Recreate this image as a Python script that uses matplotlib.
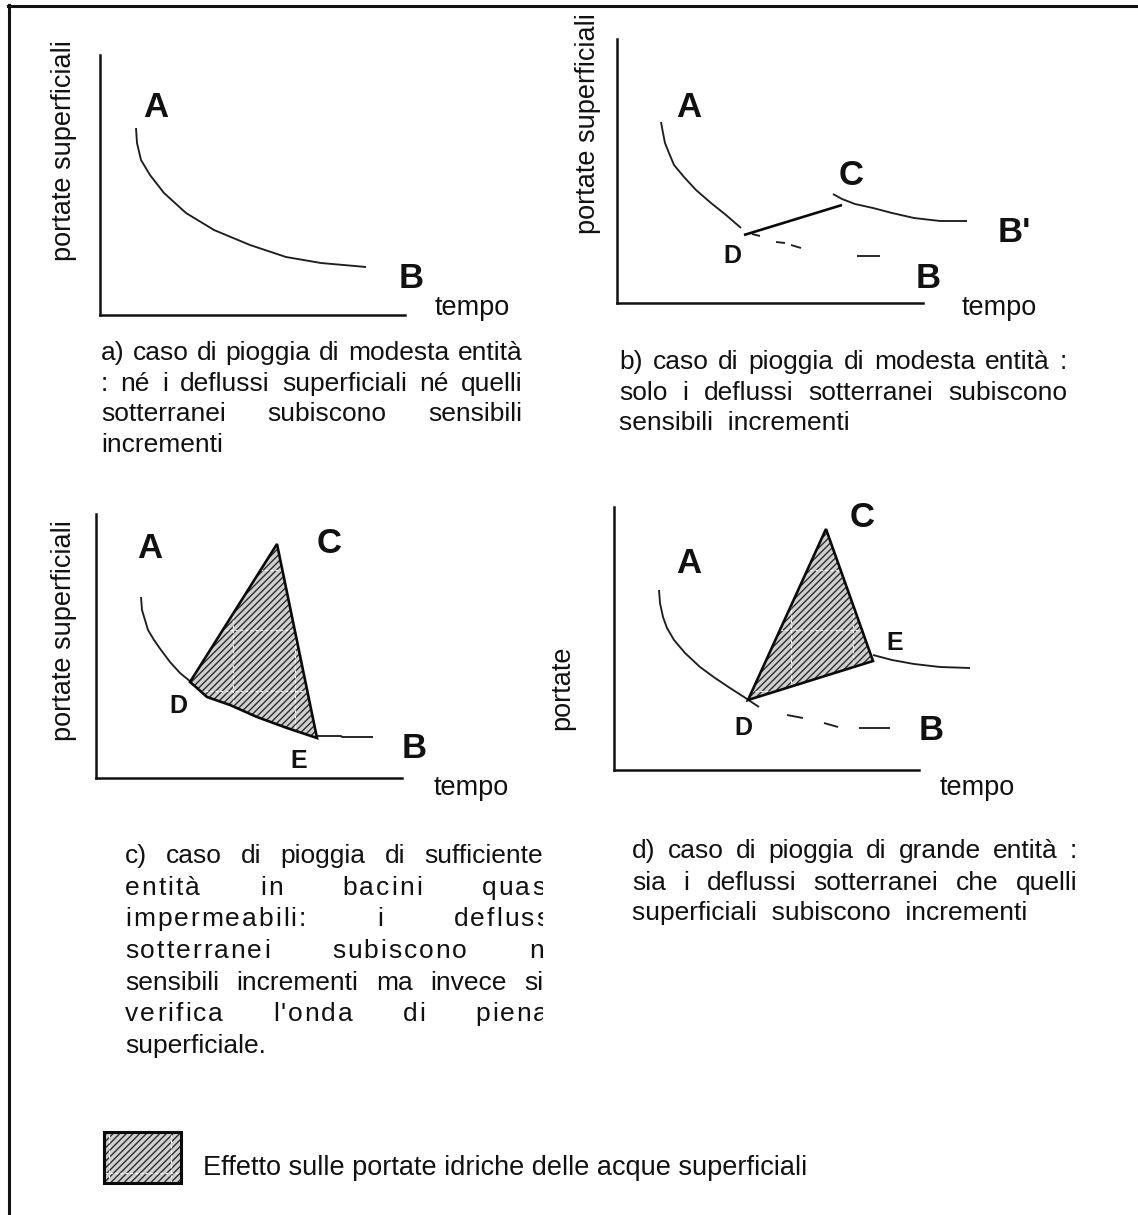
import matplotlib
matplotlib.use("Agg")
import matplotlib.pyplot as plt
from matplotlib import transforms
from matplotlib.patches import Polygon, Rectangle
from matplotlib.lines import Line2D
from matplotlib.font_manager import FontProperties, findfont, get_font

W_PX, H_PX, DPI = 1138, 1215, 100
plt.rcParams['font.family'] = ['Liberation Sans', 'DejaVu Sans']
plt.rcParams['hatch.linewidth'] = 0.95

# ---------------------------------------------------------------------------
# Hydrograph sketches (time, discharge) in arbitrary units measured from the
# origin of each panel's axes.
# ---------------------------------------------------------------------------
# a) recession A -> B
a_t = [36, 37, 41, 50, 64, 86, 114, 150, 186, 221, 266]
a_q = [187, 172, 155, 140, 122, 102, 85, 70, 58, 52, 48]

# b) recession A -> D, groundwater rise D -> C, new recession C -> B'
b_rec_t = [44, 46, 48, 52, 57, 67, 79, 94, 109, 124]
b_rec_q = [181, 170, 160, 150, 138, 126, 113, 100, 88, 75]
b_rise_t = [127, 225]
b_rise_q = [68, 98]
b_new_t = [216, 225, 238, 256, 275, 297, 323, 350]
b_new_q = [109, 104, 99, 95, 90, 85, 82, 82]
# undisturbed recession D -> B (broken line pieces)
b_base_t0 = [135, 159, 174, 240]
b_base_t1 = [143, 168, 184, 263]
b_base_q0 = [69, 61, 58, 47]
b_base_q1 = [67, 60, 55, 47]

# c) recession A -> D, flood wave D -> C -> E, recession E -> B
c_rec_t = [45, 46, 49, 52, 58, 65, 74, 84, 95]
c_rec_q = [181, 168, 158, 148, 138, 128, 116, 105, 96]
c_wave_t = [94, 181, 221, 191, 161, 134, 111, 101]
c_wave_q = [96, 234, 40, 50, 61, 73, 81, 90]
c_tail_t = [221, 245, 246, 277]
c_tail_q = [42, 42, 41, 41]

# d) recession A -> D, flood wave D -> C -> E, recession after E,
#    undisturbed recession D -> B
d_rec_t = [45, 46, 49, 53, 60, 71, 86, 101, 116, 130, 145]
d_rec_q = [180, 167, 153, 142, 130, 117, 103, 92, 82, 73, 63]
d_wave_t = [134, 212, 259]
d_wave_q = [70, 241, 109]
d_new_t = [259, 278, 300, 326, 356]
d_new_q = [115, 110, 106, 103, 102]
d_base_t0 = [173, 210, 245]
d_base_t1 = [189, 224, 276]
d_base_q0 = [55, 47, 42]
d_base_q1 = [52, 43, 42]

# ---------------------------------------------------------------------------
fig = plt.figure(figsize=(W_PX / DPI, H_PX / DPI), dpi=DPI)
fig.patch.set_facecolor('white')
# pixel coordinates, origin top-left
PX = transforms.Affine2D().scale(1 / W_PX, -1 / H_PX).translate(0, 1) + fig.transFigure

CURVE = dict(color='#1e1e1e', lw=1.35, clip_on=False, solid_capstyle='butt', zorder=2)
FILL = dict(facecolor='#cfcfcf', edgecolor='#262626', lw=0, hatch='/////', zorder=2)
EDGE = dict(fill=False, edgecolor='#0a0a0a', lw=1.9, joinstyle='miter', zorder=3,
            clip_on=False)


def panel(l, t, r, b):
    ax = fig.add_axes([l / W_PX, 1 - b / H_PX, (r - l) / W_PX, (b - t) / H_PX])
    ax.set_xlim(0, r - l)
    ax.set_ylim(0, b - t)
    for s in ('top', 'right'):
        ax.spines[s].set_visible(False)
    for s in ('left', 'bottom'):
        ax.spines[s].set_linewidth(1.8)
        ax.spines[s].set_color('#111111')
        ax.spines[s].set_capstyle('projecting')
    ax.set_xticks([])
    ax.set_yticks([])
    ax.patch.set_visible(False)
    return ax


def put(x, y, s, size=19, weight='normal', ha='left', va='baseline', **kw):
    return fig.text(x, y, s, transform=PX, fontsize=size, fontweight=weight,
                    ha=ha, va=va, color='#111111', **kw)


def texture(container, patch, z):
    # faint white dashed seams of the fill pattern
    for k in range(19):
        x = 47 + 62 * k
        ln = Line2D([x, x], [0, H_PX], transform=PX, color='white', lw=0.8,
                    ls=(0, (2.5, 2)), zorder=z)
        ln.set_clip_path(patch)
        container.add_artist(ln)
    for k in range(-10, 11):
        y = 570 + 60.3 * k
        ln = Line2D([0, W_PX], [y, y], transform=PX, color='white', lw=0.8,
                    ls=(0, (2.5, 2)), zorder=z)
        ln.set_clip_path(patch)
        container.add_artist(ln)


def wave(ax, t, q):
    pts = list(zip(t, q))
    fill = Polygon(pts, closed=True, **FILL)
    ax.add_patch(fill)
    texture(ax, fill, 2.5)
    ax.add_patch(Polygon(pts, closed=True, **EDGE))


# --- font metrics for justified paragraphs --------------------------------
def advance_fn(size):
    fp = FontProperties(family='Liberation Sans', size=size)
    ft = get_font(findfont(fp))
    ft.set_size(size, DPI)

    def adv(s):
        total = 0.0
        for c in s:
            g = ft.load_char(ord(c))
            total += g.linearHoriAdvance / 65536
        return total
    return adv


CAP = 19
adv = advance_fn(CAP)


def justified(x0, x1, y, text, track=0.0, clip=None):
    words = text.split()
    if track == 0:
        widths = [adv(w) for w in words]
    else:
        widths = [adv(w) + track * (len(w) - 1) for w in words]
    gap = (x1 - x0 - sum(widths)) / max(len(words) - 1, 1)
    x = x0
    arts = []
    for w, ww in zip(words, widths):
        if track == 0:
            arts.append(put(x, y, w, size=CAP))
        else:
            cx = x
            for c in w:
                arts.append(put(cx, y, c, size=CAP))
                cx += adv(c) + track
        x += ww + gap
    if clip is not None:
        for a in arts:
            a.set_clip_box(clip)


def plain(x, y, text):
    put(x, y, text, size=CAP)


BIG = 25
SMALL = 18

# ---------------------------------------------------------------- panel a
ax = panel(100, 55, 405, 315)
ax.plot(a_t, a_q, **CURVE)
put(155.5, 117, 'A', BIG, 'bold', ha='center')
put(411.5, 288, 'B', BIG, 'bold', ha='center')
put(435, 315, 'tempo', 19.5)
put(64, 151, 'portate superficiali', 19.5, rotation=90, ha='center', va='center')
justified(101, 522, 360, 'a) caso di pioggia di modesta entità')
justified(101, 522, 391, ': né i deflussi superficiali né quelli')
justified(101, 522, 421, 'sotterranei subiscono sensibili')
plain(101, 452, 'incrementi')

# ---------------------------------------------------------------- panel b
ax = panel(617, 39, 923, 303)
ax.plot(b_rec_t, b_rec_q, **CURVE)
ax.plot(b_rise_t, b_rise_q, color='#0a0a0a', lw=1.9, clip_on=False,
        solid_capstyle='butt', zorder=3)
ax.plot(b_new_t, b_new_q, **CURVE)
for t0, t1, q0, q1 in zip(b_base_t0, b_base_t1, b_base_q0, b_base_q1):
    ax.plot([t0, t1], [q0, q1], **CURVE)
put(689, 117, 'A', BIG, 'bold', ha='center')
put(851, 185, 'C', BIG, 'bold', ha='center')
put(1014, 242, "B'", BIG, 'bold', ha='center')
put(732, 263, 'D', SMALL, 'bold', ha='center')
put(928, 288, 'B', BIG, 'bold', ha='center')
put(962, 315, 'tempo', 19.5)
put(588, 124, 'portate superficiali', 19.5, rotation=90, ha='center', va='center')
justified(619, 1067, 369, 'b) caso di pioggia di modesta entità :')
justified(619, 1067, 400, 'solo i deflussi sotterranei subiscono')
plain(619, 430, 'sensibili  incrementi')

# ---------------------------------------------------------------- panel c
ax = panel(96, 514, 402, 778)
ax.plot(c_rec_t, c_rec_q, **CURVE)
wave(ax, c_wave_t, c_wave_q)
ax.plot(c_tail_t, c_tail_q, **CURVE)
put(150, 558, 'A', BIG, 'bold', ha='center')
put(329, 553, 'C', BIG, 'bold', ha='center')
put(178, 713, 'D', SMALL, 'bold', ha='center')
fig.text(299, 768, 'E', transform=PX, fontsize=SMALL, fontweight='bold',
         family=['Liberation Sans Narrow', 'Liberation Sans'],
         ha='center', va='baseline', color='#111111')
put(414, 758, 'B', BIG, 'bold', ha='center')
put(434, 795, 'tempo', 19.5)
put(64, 631, 'portate superficiali', 19.5, rotation=90, ha='center', va='center')

clip_c = transforms.TransformedBbox(
    transforms.Bbox.from_extents(0, 0, 543 / W_PX, 1), fig.transFigure)
justified(125, 543, 863, 'c) caso di pioggia di sufficiente', clip=clip_c)
justified(125, 553, 895, 'entità in bacini quasi', track=2.0, clip=clip_c)
justified(125, 557, 926, 'impermeabili: i deflussi', track=2.0, clip=clip_c)
justified(125, 577, 958, 'sotterranei subiscono non', track=2.0, clip=clip_c)
justified(125, 543, 990, 'sensibili incrementi ma invece si', clip=clip_c)
justified(125, 548, 1021, "verifica l'onda di piena", track=2.0, clip=clip_c)
plain(125, 1053, 'superficiale.')

# ---------------------------------------------------------------- panel d
ax = panel(614, 507, 919, 770)
ax.plot(d_rec_t, d_rec_q, **CURVE)
wave(ax, d_wave_t, d_wave_q)
ax.plot(d_new_t, d_new_q, **CURVE)
for t0, t1, q0, q1 in zip(d_base_t0, d_base_t1, d_base_q0, d_base_q1):
    ax.plot([t0, t1], [q0, q1], **CURVE)
put(689, 573, 'A', BIG, 'bold', ha='center')
put(862, 527, 'C', BIG, 'bold', ha='center')
put(895, 650, 'E', SMALL, 'bold', ha='center')
put(743, 735, 'D', SMALL, 'bold', ha='center')
put(931, 740, 'B', BIG, 'bold', ha='center')
put(940, 795, 'tempo', 19.5)
put(562, 688, 'portate', 19.5, rotation=90, ha='center', va='center')
justified(632, 1077, 858, 'd) caso di pioggia di grande entità :')
justified(632, 1077, 890, 'sia i deflussi sotterranei che quelli')
plain(632, 920, 'superficiali  subiscono  incrementi')

# ---------------------------------------------------------------- legend
box = Rectangle((104, 1132), 77, 51, transform=PX, facecolor='#cfcfcf',
                edgecolor='#262626', lw=0, hatch='/////', zorder=1)
fig.add_artist(box)
texture(fig, box, 1.5)
fig.add_artist(Rectangle((104, 1132), 77, 51, transform=PX, fill=False,
                         edgecolor='#0a0a0a', lw=2.2, zorder=2))
put(203, 1175, 'Effetto sulle portate idriche delle acque superficiali', 19.5)

# ---------------------------------------------------------------- frame
fig.add_artist(Line2D([8, W_PX], [5.5, 5.5], transform=PX, color='#111111', lw=2.2))
fig.add_artist(Line2D([9, 9], [4.5, H_PX], transform=PX, color='#111111', lw=2.2))

fig.savefig('out.png', dpi=DPI, facecolor='white')
